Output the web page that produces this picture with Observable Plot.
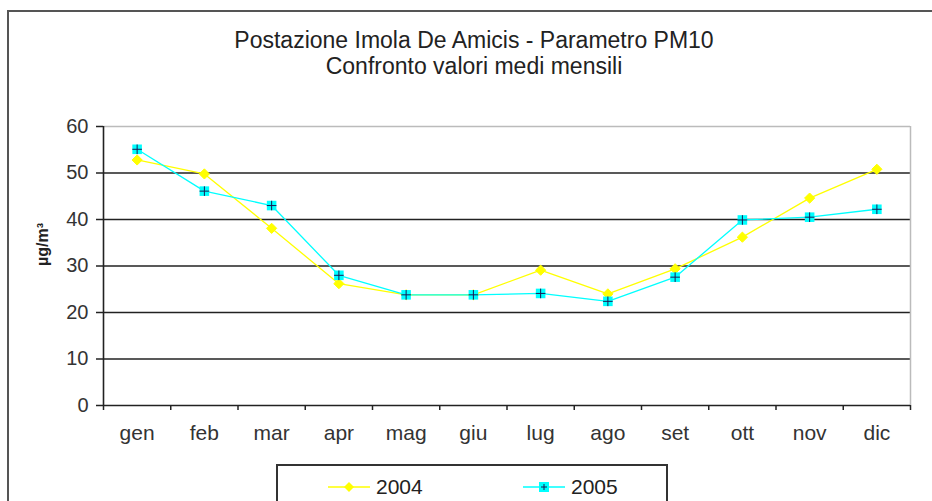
<!DOCTYPE html>
<html>
<head>
<meta charset="utf-8">
<script src="https://cdn.jsdelivr.net/npm/d3@7"></script>
<script src="https://cdn.jsdelivr.net/npm/@observablehq/plot@0.6"></script>
<style>
  html, body { margin: 0; padding: 0; background: #fff; }
  body { width: 932px; height: 501px; position: relative; overflow: hidden; font-family: "Liberation Sans", Arial, sans-serif; }
  #frame { position: absolute; left: 7px; top: 10px; width: 940px; height: 520px; border-left: 2px solid #555; border-top: 2px solid #555; }
  #title { position: absolute; left: 0; top: 27px; width: 948px; text-align: center; font-size: 23px; line-height: 26px; color: #222; }
  #chart { position: absolute; left: 0; top: 0; }
  #legend { position: absolute; left: 276px; top: 464px; width: 388px; height: 60px; border: 2px solid #333; background: #fff; }
  .item { position: absolute; top: 8px; display: flex; align-items: center; font-size: 21px; line-height: 26px; color: #222; }
  .item svg { margin-right: 6px; }
</style>
</head>
<body>
<div id="frame"></div>
<div id="chart"></div>
<div id="title">Postazione Imola De Amicis - Parametro PM10<br>Confronto valori medi mensili</div>
<div id="legend"></div>
<script>
const months = ["gen", "feb", "mar", "apr", "mag", "giu", "lug", "ago", "set", "ott", "nov", "dic"];
const years = ["2004", "2005"];
const pm2004 = [52.8, 49.8, 38.1, 26.2, 23.8, 23.8, 29.1, 24.0, 29.4, 36.2, 44.6, 50.8];
const pm2005 = [55.1, 46.1, 43.0, 28.0, 23.8, 23.8, 24.1, 22.4, 27.6, 39.9, 40.5, 42.2];
const yTicks = [0, 10, 20, 30, 40, 50, 60];
const colors = ["#ffff00", "#00ffff"];

const d2004 = months.map((m, i) => ({i, month: m, year: years[0], v: pm2004[i]}));
const d2005 = months.map((m, i) => ({i, month: m, year: years[1], v: pm2005[i]}));

const chart = Plot.plot({
  width: 932,
  height: 501,
  marginTop: 126,
  marginBottom: 96,
  marginLeft: 103,
  marginRight: 22,
  style: {fontFamily: "'Liberation Sans', Arial, sans-serif", color: "#222", background: "transparent", overflow: "visible"},
  x: {type: "linear", domain: [-0.5, 11.5]},
  y: {domain: [0, 60]},
  marks: [
    Plot.gridY(yTicks.slice(1, -1), {stroke: "#222", strokeOpacity: 1, strokeWidth: 1.6}),
    Plot.ruleY([60], {stroke: "#bbb", strokeWidth: 1.5}),
    Plot.ruleX([11.5], {stroke: "#bbb", strokeWidth: 1.5}),
    Plot.ruleY([0], {stroke: "#222", strokeWidth: 1.6}),
    Plot.ruleX([-0.5], {stroke: "#222", strokeWidth: 1.6}),
    Plot.axisY({ticks: yTicks, tickSize: 7, tickPadding: 8, fontSize: 20, label: null, stroke: "#222", strokeWidth: 1.5, fill: "#333"}),
    Plot.axisX({ticks: d3.range(-0.5, 12, 1), tickSize: 5, tickFormat: () => "", label: null, stroke: "#222", strokeWidth: 1.5}),
    Plot.axisX({ticks: d3.range(12), tickSize: 0, tickPadding: 20, tickFormat: i => months[i], fontSize: 21, label: null, fill: "#333"}),
    Plot.text(["µg/m³"], {frameAnchor: "left", dx: -61, dy: 0, rotate: -90, fontSize: 16, fontWeight: "bold", fill: "#222"}),
    Plot.line(d2004, {x: "i", y: "v", stroke: colors[0], strokeWidth: 1.3}),
    Plot.line(d2005, {x: "i", y: "v", stroke: colors[1], strokeWidth: 1.3}),
    Plot.dot(d2004, {x: "i", y: "v", symbol: "diamond2", r: 4.6, fill: colors[0], stroke: colors[0], strokeWidth: 1}),
    Plot.dot(d2005, {x: "i", y: "v", symbol: "square", r: 5.4, fill: colors[1]}),
    Plot.dot(d2005, {x: "i", y: "v", symbol: "plus", r: 3.2, stroke: "#1a1a55", strokeWidth: 1})
  ]
});
document.getElementById("chart").appendChild(chart);

// legend
const legend = document.getElementById("legend");
const positions = [50, 245];
years.forEach((yr, k) => {
  const item = document.createElement("div");
  item.className = "item";
  item.style.left = positions[k] + "px";
  const marker = k === 0
    ? `<path d="M21,3 L26,8 L21,13 L16,8 Z" fill="${colors[0]}"/>`
    : `<rect x="16" y="3" width="10" height="10" fill="${colors[1]}"/><path d="M21,5V11M18,8H24" stroke="#1a1a55" stroke-width="1"/>`;
  item.innerHTML = `<svg width="42" height="16"><line x1="0" y1="8" x2="42" y2="8" stroke="${colors[k]}" stroke-width="1.3"/>${marker}</svg><span>${yr}</span>`;
  legend.appendChild(item);
});
</script>
</body>
</html>
